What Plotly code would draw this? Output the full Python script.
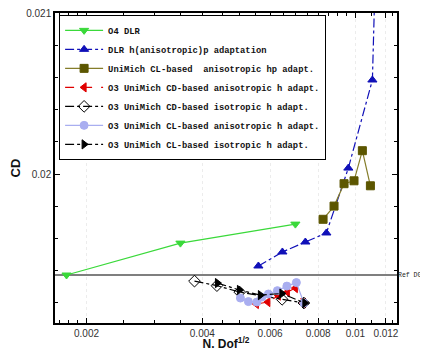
import plotly.graph_objects as go

# ---------------- data ----------------
o4_dlr_x = [0.001775, 0.003509, 0.006981]
o4_dlr_y = [0.019373, 0.019571, 0.019689]

dlr_hp_x = [0.005595, 0.006459, 0.007411, 0.008403, 0.009584, 0.011068, 0.011335]
dlr_hp_y = [0.019429, 0.019516, 0.019578, 0.019634, 0.020037, 0.020584, 0.021500]

cl_aniso_hp_x = [0.008239, 0.008798, 0.009341, 0.009916, 0.010422, 0.010936]
cl_aniso_hp_y = [0.019719, 0.019801, 0.019940, 0.019958, 0.020145, 0.019927]

cd_aniso_h_x = [0.005528, 0.005922, 0.006306, 0.006655, 0.006981, 0.007323]
cd_aniso_h_y = [0.019193, 0.019205, 0.019245, 0.019267, 0.019292, 0.019199]

cd_iso_h_x = [0.003817, 0.004365, 0.005003, 0.006447, 0.007345]
cd_iso_h_y = [0.019335, 0.019307, 0.019267, 0.019222, 0.019199]

cl_aniso_h_x = [0.005024, 0.005270, 0.005545, 0.005713, 0.005940, 0.006268, 0.006635, 0.007022, 0.007345]
cl_aniso_h_y = [0.019230, 0.019208, 0.019205, 0.019236, 0.019255, 0.019276, 0.019304, 0.019326, 0.019199]

cl_iso_h_x = [0.004379, 0.004994, 0.005662, 0.006439, 0.007389]
cl_iso_h_y = [0.019323, 0.019280, 0.019248, 0.019258, 0.019199]

ref_dg = 0.019373

x_ticks = [0.002, 0.004, 0.006, 0.008, 0.01, 0.012]
x_tick_labels = ["0.002", "0.004", "0.006", "0.008", "0.01", "0.012"]
x_minor = [0.0017, 0.0018, 0.0019, 0.0025, 0.003, 0.0035, 0.0045, 0.005, 0.0055,
           0.0065, 0.007, 0.0075, 0.0085, 0.009, 0.0095, 0.011, 0.0125]
y_ticks = [0.02, 0.021]
y_tick_labels = ["0.02", "0.021"]

# ---------------- figure ----------------
fig = go.Figure()

def add(x, y, name, color, symbol, dash, msize, lcolor=None):
    fig.add_trace(go.Scatter(
        x=x, y=y, name=name, mode="lines+markers",
        line=dict(color=lcolor or color, width=1.2, dash=dash),
        marker=dict(symbol=symbol, size=msize, color=color,
                    line=dict(color=color, width=1)),
    ))

add(o4_dlr_x, o4_dlr_y, "O4 DLR", "#3ad93a", "triangle-down", "solid", 8)
add(dlr_hp_x, dlr_hp_y, "DLR h(anisotropic)p adaptation", "#1010b8", "triangle-up", "dashdot", 8)
add(cl_aniso_hp_x, cl_aniso_hp_y, "UniMich CL-based  anisotropic hp adapt.", "#5c5600",
    "square", "solid", 8, lcolor="#857d2a")
add(cd_aniso_h_x, cd_aniso_h_y, "O3 UniMich CD-based anisotropic h adapt.", "#e00000",
    "triangle-left", "dash", 8)
add(cd_iso_h_x, cd_iso_h_y, "O3 UniMich CD-based isotropic h adapt.", "#000000",
    "diamond-open", "dashdot", 9)
add(cl_aniso_h_x, cl_aniso_h_y, "O3 UniMich CL-based anisotropic h adapt.", "#a9aef0",
    "circle", "solid", 8)
add(cl_iso_h_x, cl_iso_h_y, "O3 UniMich CL-based isotropic h adapt.", "#000000",
    "triangle-right", "dashdot", 8)

fig.add_hline(y=ref_dg, line=dict(color="black", width=1.2), layer="below")
fig.add_annotation(x=1, xref="paper", y=ref_dg, yref="y", text="Ref DG",
                   showarrow=False, xanchor="left", yanchor="middle", xshift=0,
                   borderpad=0,
                   font=dict(family="Liberation Mono", size=6.5, color="#222"))

# the page body adds an 8px offset, so the figure is sized to fit the 428x351 window
fig.update_layout(
    width=420, height=343,
    margin=dict(l=47, r=31, t=5, b=28),
    plot_bgcolor="white", paper_bgcolor="white",
    showlegend=True,
    legend=dict(
        x=0.012, y=0.994, xanchor="left", yanchor="top",
        bordercolor="black", borderwidth=1, bgcolor="white",
        font=dict(family="Liberation Mono", size=8.8, color="#111", weight="bold"),
        tracegroupgap=0, itemwidth=38,
    ),
    font=dict(family="Liberation Sans", color="#222"),
)

fig.update_xaxes(
    type="log", range=[-2.7808, -1.892],
    tickmode="array", tickvals=x_ticks, ticktext=x_tick_labels,
    ticks="inside", ticklen=5, tickwidth=1, tickcolor="black",
    tickfont=dict(size=10, color="#333"), ticklabeloverflow="allow",
    showline=True, linecolor="black", linewidth=1.5, mirror="allticks",
    showgrid=True, gridcolor="#ececec", griddash="dot", gridwidth=1,
    zeroline=False,
    minor=dict(tickmode="array", tickvals=x_minor, ticks="inside", ticklen=3,
               tickcolor="black", showgrid=False),
    title=dict(text="N. Dof<sup>1/2</sup>", standoff=5,
               font=dict(size=12, color="#111", weight="bold")),
    automargin=False,
)
fig.update_yaxes(
    range=[0.019075, 0.021],
    tickmode="array", tickvals=y_ticks, ticktext=y_tick_labels,
    ticks="inside", ticklen=5, tickwidth=1, tickcolor="black",
    tickfont=dict(size=10, color="#333"), ticklabeloverflow="allow",
    showline=True, linecolor="black", linewidth=1.5, mirror="allticks",
    showgrid=False, zeroline=False,
    minor=dict(dtick=0.0002, tick0=0.019, ticks="inside", ticklen=3,
               tickcolor="black", showgrid=False),
    title=dict(text="CD", standoff=8, font=dict(size=13, color="#111", weight="bold")),
    automargin=False,
)

fig.write_html("out.html")
